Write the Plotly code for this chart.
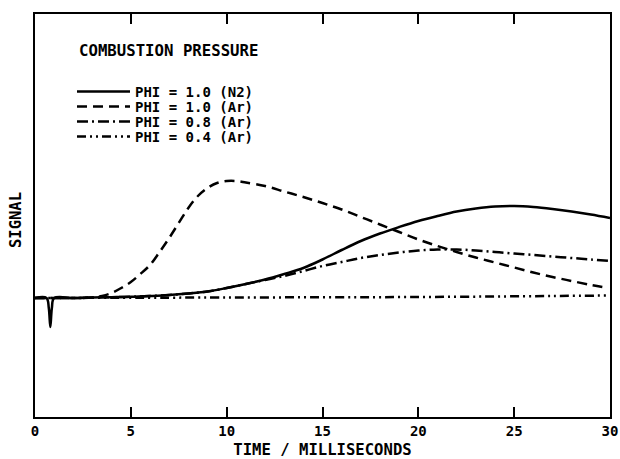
import plotly.graph_objects as go

# ---- data (time in ms, signal in arbitrary units; 0 = baseline) ----
t_n2 = [0, 0.6, 0.72, 0.8, 0.88, 1.0, 2, 3, 4, 5, 6, 7, 8, 9, 10, 11, 12, 13, 14, 15,
        16, 17, 18, 19, 20, 21, 22, 23, 24, 25, 26, 27, 28, 29, 30]
s_n2 = [0, 0, -1.0, -2.9, -1.0, 0, 0, 0.05, 0.08, 0.12, 0.2, 0.3, 0.45, 0.65, 1.0, 1.4,
        1.85, 2.4, 3.0, 3.85, 4.8, 5.7, 6.45, 7.1, 7.7, 8.2, 8.65, 8.95, 9.15, 9.2, 9.1,
        8.9, 8.65, 8.35, 8.0]

t_ar10 = [0, 1, 2, 3, 3.5, 4, 4.5, 5, 5.5, 6, 6.5, 7, 7.5, 8, 8.5, 9, 9.5, 10, 10.5, 11,
          12, 13, 14, 15, 16, 17, 18, 19, 20, 21, 22, 23, 24, 25, 26, 27, 28, 29, 29.6]
s_ar10 = [0, 0, 0, 0.05, 0.2, 0.5, 1.0, 1.6, 2.4, 3.3, 4.6, 6.0, 7.5, 9.0, 10.2, 11.0,
          11.5, 11.7, 11.7, 11.55, 11.2, 10.65, 10.1, 9.5, 8.85, 8.1, 7.35, 6.6, 5.85,
          5.2, 4.6, 4.05, 3.55, 3.05, 2.55, 2.1, 1.7, 1.3, 1.1]

t_ar08 = [0, 2, 3, 4, 5, 6, 7, 8, 9, 10, 11, 12, 13, 14, 15, 16, 17, 18, 19, 20, 21, 22,
          23, 24, 25, 26, 27, 28, 29, 30]
s_ar08 = [0, 0, 0.05, 0.08, 0.12, 0.2, 0.3, 0.45, 0.65, 1.0, 1.4, 1.8, 2.2, 2.7, 3.2,
          3.6, 4.0, 4.3, 4.55, 4.75, 4.85, 4.85, 4.75, 4.6, 4.45, 4.3, 4.15, 4.0, 3.85, 3.7]

t_ar04 = [0, 10, 20, 27, 30]
s_ar04 = [0, 0.05, 0.1, 0.2, 0.25]

labels = ["PHI = 1.0 (N2)", "PHI = 1.0 (Ar)", "PHI = 0.8 (Ar)", "PHI = 0.4 (Ar)"]
x_ticks = [0, 5, 10, 15, 20, 25, 30]

FONT = "DejaVu Sans Mono"

series = [
    (t_n2, s_n2, "solid"),
    (t_ar10, s_ar10, "10px,6px"),
    (t_ar08, s_ar08, "11px,4px,2px,4px"),
    (t_ar04, s_ar04, "9px,4px,2px,4px,2px,4px"),
]

fig = go.Figure()
legend_names = ["legend", "legend2", "legend3", "legend4"]
for i, ((tx, sy, dash), lab) in enumerate(zip(series, labels)):
    fig.add_trace(go.Scatter(
        x=tx, y=sy, mode="lines", name=lab,
        line=dict(color="black", width=2.5, dash=dash, shape="spline", smoothing=1.0),
        legend=legend_names[i],
    ))

# plot area: x 35..610, y 14..417 px
legend_rows_px = [92, 107, 122, 137]
leg_common = dict(bgcolor="rgba(0,0,0,0)",
                  font=dict(family=FONT, size=14, color="black", weight="bold"),
                  itemwidth=53, xanchor="left", yanchor="middle", tracegroupgap=0)
layout_legends = {}
for name, py in zip(legend_names, legend_rows_px):
    layout_legends[name] = dict(leg_common, x=(72 - 35) / 575, y=(417 - py) / 403)

fig.update_layout(
    width=620, height=459,
    margin=dict(l=35, r=10, t=14, b=42, autoexpand=False),
    paper_bgcolor="white", plot_bgcolor="white",
    showlegend=True,
    font=dict(family=FONT, size=14, color="black"),
    annotations=[
        dict(text="<b>COMBUSTION PRESSURE</b>", xref="paper", yref="paper",
             x=(77 - 35) / 575, y=(417 - 51) / 403, xanchor="left", yanchor="middle",
             showarrow=False, font=dict(family=FONT, size=15.7)),
        dict(text="<b>SIGNAL</b>", xref="paper", yref="paper",
             x=(16 - 35) / 575, y=(417 - 220) / 403, xanchor="center", yanchor="middle",
             textangle=-90, showarrow=False, font=dict(family=FONT, size=15.5)),
    ],
    **layout_legends,
)

fig.update_xaxes(
    range=[0, 30], tickvals=x_ticks,
    ticks="inside", ticklen=10, tickwidth=2, tickcolor="black",
    showline=True, linecolor="black", linewidth=2, mirror="ticks",
    tickfont=dict(family=FONT, size=14, weight="bold", color="black"),
    title=dict(text="TIME / MILLISECONDS",
               font=dict(family=FONT, size=15.6, weight="bold"), standoff=7),
)
fig.update_yaxes(
    range=[-11.9, 28.4], showticklabels=False,
    showline=True, linecolor="black", linewidth=2, mirror=True,
)

fig.write_html("out.html", config={"displayModeBar": False},
               post_script="document.body.style.margin='0';")
